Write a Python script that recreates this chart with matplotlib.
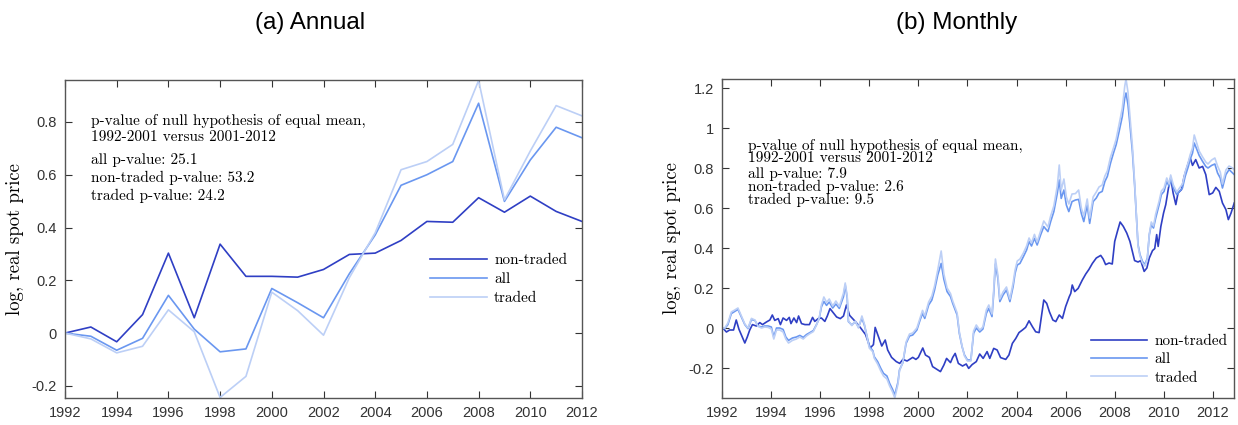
import numpy as np
import matplotlib
matplotlib.use('Agg')
import matplotlib.pyplot as plt
from matplotlib.ticker import FuncFormatter

# ---- annual data ----
years = np.arange(1992, 2013)
ann_nontraded = [0.0, 0.023, -0.033, 0.07, 0.303, 0.058, 0.337, 0.215, 0.215, 0.212, 0.241,
                 0.298, 0.303, 0.351, 0.423, 0.42, 0.513, 0.458, 0.519, 0.461, 0.423]
ann_all = [0.0, -0.012, -0.065, -0.02, 0.143, 0.015, -0.071, -0.06, 0.169, 0.115, 0.058,
           0.225, 0.372, 0.56, 0.6, 0.65, 0.871, 0.499, 0.656, 0.78, 0.74]
ann_traded = [0.0, -0.022, -0.075, -0.05, 0.088, 0.005, -0.244, -0.164, 0.155, 0.085, -0.008,
              0.21, 0.38, 0.619, 0.65, 0.715, 0.957, 0.505, 0.69, 0.862, 0.823]

# ---- monthly data (decimal years) ----
t_nontraded = [1992.00, 1992.07, 1992.18, 1992.31, 1992.47, 1992.58, 1992.69, 1992.79, 1992.93, 1993.03,
               1993.13, 1993.24, 1993.40, 1993.54, 1993.65, 1993.81, 1993.95, 1994.05, 1994.15, 1994.29,
               1994.38, 1994.49, 1994.63, 1994.74, 1994.81, 1994.93, 1995.04, 1995.12, 1995.24, 1995.38,
               1995.56, 1995.69, 1995.78, 1995.92, 1996.05, 1996.19, 1996.29, 1996.40, 1996.53, 1996.67,
               1996.82, 1996.95, 1997.07, 1997.20, 1997.45, 1997.65, 1997.85, 1998.04, 1998.17, 1998.24,
               1998.38, 1998.51, 1998.65, 1998.75, 1998.91, 1999.10, 1999.24, 1999.37, 1999.54, 1999.77,
               1999.90, 2000.00, 2000.18, 2000.29, 2000.45, 2000.58, 2000.76, 2000.90, 2001.04, 2001.15,
               2001.31, 2001.40, 2001.50, 2001.63, 2001.80, 2001.95, 2002.05, 2002.19, 2002.36, 2002.50,
               2002.64, 2002.80, 2002.91, 2003.07, 2003.21, 2003.35, 2003.56, 2003.69, 2003.83, 2003.97,
               2004.10, 2004.24, 2004.37, 2004.51, 2004.65, 2004.78, 2004.92, 2005.01, 2005.11, 2005.23,
               2005.34, 2005.48, 2005.60, 2005.74, 2005.87, 2006.00, 2006.15, 2006.21, 2006.27, 2006.37,
               2006.51, 2006.68, 2006.82, 2006.95, 2007.09, 2007.25, 2007.43, 2007.53, 2007.63, 2007.77,
               2007.90, 2008.00, 2008.11, 2008.22, 2008.35, 2008.49, 2008.62, 2008.72, 2008.81, 2008.95,
               2009.06, 2009.20, 2009.31, 2009.41, 2009.54, 2009.63, 2009.71, 2009.77, 2009.88, 2009.99,
               2010.08, 2010.19, 2010.28, 2010.38, 2010.49, 2010.58, 2010.72, 2010.83, 2010.97, 2011.07,
               2011.17, 2011.30, 2011.44, 2011.58, 2011.71, 2011.85, 2011.99, 2012.12, 2012.26, 2012.39,
               2012.53, 2012.63, 2012.74, 2012.87]
mon_nontraded = [0.0, -0.005, -0.02, -0.01, -0.01, 0.04, -0.006, -0.035, -0.075, -0.045,
                 -0.01, 0.017, 0.01, 0.027, 0.017, 0.03, 0.04, 0.065, 0.038, 0.047,
                 0.017, 0.05, 0.038, 0.053, 0.022, 0.05, 0.027, 0.06, 0.022, 0.017,
                 0.017, 0.053, 0.033, 0.047, 0.05, 0.033, 0.06, 0.097, 0.077, 0.055,
                 0.047, 0.06, 0.115, 0.063, 0.03, 0.0, -0.033, -0.1, -0.083, 0.003,
                 -0.045, -0.09, -0.06, -0.11, -0.147, -0.168, -0.177, -0.157, -0.165, -0.147,
                 -0.157, -0.147, -0.1, -0.135, -0.147, -0.193, -0.207, -0.218, -0.185, -0.152,
                 -0.173, -0.147, -0.127, -0.177, -0.19, -0.18, -0.202, -0.183, -0.168, -0.13,
                 -0.152, -0.118, -0.152, -0.102, -0.11, -0.148, -0.157, -0.135, -0.077, -0.052,
                 -0.023, -0.01, 0.003, 0.036, 0.006, -0.019, -0.023, 0.053, 0.14, 0.123,
                 0.081, 0.04, 0.032, 0.065, 0.048, 0.107, 0.157, 0.173, 0.215, 0.182,
                 0.198, 0.24, 0.27, 0.293, 0.323, 0.35, 0.363, 0.345, 0.317, 0.325,
                 0.32, 0.433, 0.483, 0.53, 0.508, 0.475, 0.433, 0.383, 0.337, 0.33,
                 0.337, 0.283, 0.3, 0.35, 0.387, 0.397, 0.467, 0.408, 0.508, 0.575,
                 0.617, 0.7, 0.75, 0.675, 0.617, 0.675, 0.692, 0.758, 0.813, 0.853,
                 0.813, 0.842, 0.8, 0.808, 0.767, 0.667, 0.675, 0.703, 0.683, 0.625,
                 0.592, 0.542, 0.575, 0.625]

t_all = [1992.00, 1992.11, 1992.24, 1992.38, 1992.52, 1992.65, 1992.79, 1992.93, 1993.06, 1993.20,
         1993.34, 1993.47, 1993.61, 1993.74, 1993.88, 1994.01, 1994.11, 1994.22, 1994.35, 1994.49,
         1994.60, 1994.71, 1994.87, 1995.03, 1995.17, 1995.31, 1995.44, 1995.58, 1995.72, 1995.85,
         1995.96, 1996.05, 1996.15, 1996.26, 1996.37, 1996.51, 1996.64, 1996.78, 1996.95, 1997.02,
         1997.10, 1997.15, 1997.29, 1997.43, 1997.56, 1997.70, 1997.80, 1998.00, 1998.15, 1998.20,
         1998.34, 1998.47, 1998.58, 1998.72, 1998.83, 1998.95, 1999.04, 1999.17, 1999.23, 1999.37,
         1999.50, 1999.64, 1999.77, 1999.94, 2000.07, 2000.17, 2000.26, 2000.42, 2000.55, 2000.66,
         2000.79, 2000.93, 2001.04, 2001.17, 2001.31, 2001.40, 2001.58, 2001.67, 2001.78, 2001.88,
         2002.00, 2002.14, 2002.25, 2002.36, 2002.50, 2002.63, 2002.77, 2002.87, 2003.00, 2003.07,
         2003.14, 2003.24, 2003.32, 2003.45, 2003.59, 2003.73, 2003.86, 2003.94, 2004.03, 2004.14,
         2004.28, 2004.41, 2004.51, 2004.61, 2004.73, 2004.84, 2004.98, 2005.11, 2005.28, 2005.39,
         2005.52, 2005.66, 2005.74, 2005.82, 2005.93, 2006.03, 2006.13, 2006.26, 2006.40, 2006.53,
         2006.64, 2006.74, 2006.88, 2006.98, 2007.12, 2007.25, 2007.36, 2007.49, 2007.60, 2007.70,
         2007.83, 2007.95, 2008.06, 2008.18, 2008.31, 2008.41, 2008.46, 2008.54, 2008.62, 2008.72,
         2008.81, 2008.89, 2008.95, 2009.03, 2009.13, 2009.23, 2009.33, 2009.41, 2009.49, 2009.58,
         2009.67, 2009.81, 2009.90, 2010.01, 2010.12, 2010.22, 2010.28, 2010.39, 2010.53, 2010.64,
         2010.76, 2010.87, 2011.00, 2011.07, 2011.17, 2011.24, 2011.35, 2011.44, 2011.58, 2011.71,
         2011.80, 2011.95, 2012.08, 2012.19, 2012.30, 2012.39, 2012.53, 2012.66, 2012.80, 2012.87]
mon_all = [0.0, -0.003, 0.017, 0.072, 0.083, 0.093, 0.055, 0.017, -0.003, 0.042,
           0.038, 0.01, 0.005, 0.01, 0.01, 0.005, -0.045, 0.0, 0.0, -0.007,
           -0.045, -0.062, -0.05, -0.045, -0.037, -0.047, -0.033, -0.023, -0.013, 0.017,
           0.047, 0.105, 0.133, 0.113, 0.13, 0.1, 0.12, 0.098, 0.157, 0.215,
           0.15, 0.032, 0.015, 0.032, 0.005, 0.048, 0.015, -0.09, -0.115, -0.143,
           -0.168, -0.202, -0.227, -0.24, -0.277, -0.307, -0.335, -0.27, -0.21, -0.173,
           -0.077, -0.04, -0.035, -0.01, 0.04, 0.073, 0.048, 0.115, 0.14, 0.19,
           0.265, 0.323, 0.243, 0.182, 0.157, 0.123, 0.065, -0.027, -0.093, -0.135,
           -0.16, -0.16, -0.027, 0.0, -0.02, -0.005, 0.073, 0.098, 0.057, 0.173,
           0.32, 0.248, 0.132, 0.165, 0.19, 0.132, 0.207, 0.273, 0.315, 0.323,
           0.357, 0.39, 0.432, 0.41, 0.448, 0.415, 0.465, 0.507, 0.482, 0.532,
           0.582, 0.673, 0.74, 0.648, 0.69, 0.615, 0.582, 0.632, 0.64, 0.643,
           0.573, 0.532, 0.615, 0.523, 0.632, 0.65, 0.675, 0.683, 0.733, 0.758,
           0.825, 0.875, 0.917, 0.983, 1.058, 1.15, 1.175, 1.117, 1.017, 0.883,
           0.717, 0.55, 0.417, 0.367, 0.333, 0.317, 0.35, 0.467, 0.517, 0.5,
           0.55, 0.617, 0.667, 0.683, 0.733, 0.708, 0.75, 0.7, 0.667, 0.683,
           0.7, 0.758, 0.808, 0.842, 0.875, 0.925, 0.892, 0.863, 0.833, 0.808,
           0.8, 0.813, 0.82, 0.775, 0.75, 0.7, 0.767, 0.792, 0.775, 0.767]
mon_traded = [0.0, 0.0, 0.025, 0.08, 0.09, 0.1, 0.06, 0.02, 0.0, 0.048,
              0.04, 0.008, 0.0, 0.005, 0.003, -0.005, -0.055, -0.01, -0.01, -0.02,
              -0.055, -0.075, -0.062, -0.055, -0.045, -0.055, -0.04, -0.028, -0.018, 0.015,
              0.05, 0.115, 0.155, 0.128, 0.145, 0.11, 0.135, 0.108, 0.175, 0.225,
              0.16, 0.035, 0.012, 0.035, 0.0, 0.06, 0.02, -0.1, -0.12, -0.15,
              -0.18, -0.215, -0.24, -0.255, -0.29, -0.32, -0.35, -0.28, -0.215, -0.17,
              -0.07, -0.03, -0.025, 0.0, 0.05, 0.088, 0.06, 0.13, 0.16, 0.21,
              0.29, 0.385, 0.27, 0.2, 0.172, 0.135, 0.075, -0.02, -0.09, -0.14,
              -0.165, -0.165, -0.015, 0.015, -0.01, 0.005, 0.09, 0.115, 0.07, 0.19,
              0.345, 0.265, 0.145, 0.18, 0.205, 0.145, 0.225, 0.29, 0.335, 0.345,
              0.375, 0.41, 0.45, 0.425, 0.468, 0.43, 0.485, 0.535, 0.505, 0.56,
              0.61, 0.71, 0.815, 0.69, 0.745, 0.655, 0.62, 0.67, 0.672, 0.69,
              0.6, 0.56, 0.645, 0.55, 0.655, 0.68, 0.705, 0.715, 0.76, 0.785,
              0.855, 0.9, 0.945, 1.02, 1.1, 1.21, 1.245, 1.18, 1.06, 0.91,
              0.73, 0.55, 0.41, 0.36, 0.325, 0.31, 0.345, 0.47, 0.53, 0.51,
              0.57, 0.635, 0.685, 0.7, 0.75, 0.72, 0.765, 0.715, 0.68, 0.7,
              0.72, 0.78, 0.83, 0.865, 0.9, 0.965, 0.92, 0.885, 0.855, 0.83,
              0.82, 0.84, 0.85, 0.81, 0.78, 0.72, 0.79, 0.81, 0.8, 0.79]

pval_annual = {'all': 25.1, 'non-traded': 53.2, 'traded': 24.2}
pval_monthly = {'all': 7.9, 'non-traded': 2.6, 'traded': 9.5}

c_nt = '#2f3fc4'
c_all = '#6a97f0'
c_tr = '#bccff6'
serif = 'cmr10'
sans = 'Liberation Sans'

fig = plt.figure(figsize=(12.38, 4.25), dpi=100)
ax1 = fig.add_axes([65/1238, 1 - 398/425, 517/1238, 318/425])
ax2 = fig.add_axes([722/1238, 1 - 398/425, 512/1238, 319/425])

ax1.plot(years, ann_nontraded, color=c_nt, lw=1.2, label='non-traded')
ax1.plot(years, ann_all, color=c_all, lw=1.2, label='all')
ax1.plot(years, ann_traded, color=c_tr, lw=1.2, label='traded')
ax1.set_xlim(1992, 2012)
ax1.set_ylim(-0.246, 0.959)
ax1.set_yticks([-0.2, 0, 0.2, 0.4, 0.6, 0.8])

ax2.plot(t_nontraded, mon_nontraded, color=c_nt, lw=1.2, label='non-traded')
ax2.plot(t_all, mon_all, color=c_all, lw=1.2, label='all')
ax2.plot(t_all, mon_traded, color=c_tr, lw=1.2, label='traded')
ax2.set_xlim(1992, 2012.86)
ax2.set_ylim(-0.35, 1.245)
ax2.set_yticks([-0.2, 0, 0.2, 0.4, 0.6, 0.8, 1.0, 1.2])

for ax in (ax1, ax2):
    ax.set_xticks(range(1992, 2013, 2))
    ax.yaxis.set_major_formatter(FuncFormatter(lambda v, p: '%g' % round(v, 2)))
    ax.tick_params(direction='in', top=True, right=True, length=5, width=0.8,
                   colors='#333333', labelsize=10.5, pad=6)
    for lab in ax.get_xticklabels() + ax.get_yticklabels():
        lab.set_fontfamily(sans)
    for s in ax.spines.values():
        s.set_color('#555555')
        s.set_linewidth(1.0)
    ax.set_ylabel('log, real spot price', family=serif, fontsize=13.5, labelpad=5)

ax1.text(0.05, 0.893, 'p-value of null hypothesis of equal mean,\n1992-2001 versus 2001-2012',
         transform=ax1.transAxes, family=serif, fontsize=11, va='top', linespacing=1.25)
ax1.text(0.05, 0.772, 'all p-value: %.1f\nnon-traded p-value: %.1f\ntraded p-value: %.1f'
         % (pval_annual['all'], pval_annual['non-traded'], pval_annual['traded']),
         transform=ax1.transAxes, family=serif, fontsize=11, va='top', linespacing=1.35)

ax2.text(0.05, 0.812, 'p-value of null hypothesis of equal mean,\n1992-2001 versus 2001-2012',
         transform=ax2.transAxes, family=serif, fontsize=11, va='top', linespacing=0.85)
ax2.text(0.05, 0.724, 'all p-value: %.1f\nnon-traded p-value: %.1f\ntraded p-value: %.1f'
         % (pval_monthly['all'], pval_monthly['non-traded'], pval_monthly['traded']),
         transform=ax2.transAxes, family=serif, fontsize=11, va='top', linespacing=0.9)

ax1.legend(loc='upper left', bbox_to_anchor=(0.706, 0.455), frameon=False,
           prop={'family': serif, 'size': 11}, handlelength=3.7, handletextpad=0.5,
           labelspacing=0.35, borderpad=0, borderaxespad=0)
ax2.legend(loc='upper left', bbox_to_anchor=(0.72, 0.20), frameon=False,
           prop={'family': serif, 'size': 11}, handlelength=3.7, handletextpad=0.5,
           labelspacing=0.3, borderpad=0, borderaxespad=0)

fig.text(310/1238, 1 - 23/425, '(a) Annual', family=sans, fontsize=17.5, ha='center', va='center')
fig.text(957/1238, 1 - 23/425, '(b) Monthly', family=sans, fontsize=17.5, ha='center', va='center')

fig.savefig('out.png', dpi=100)
